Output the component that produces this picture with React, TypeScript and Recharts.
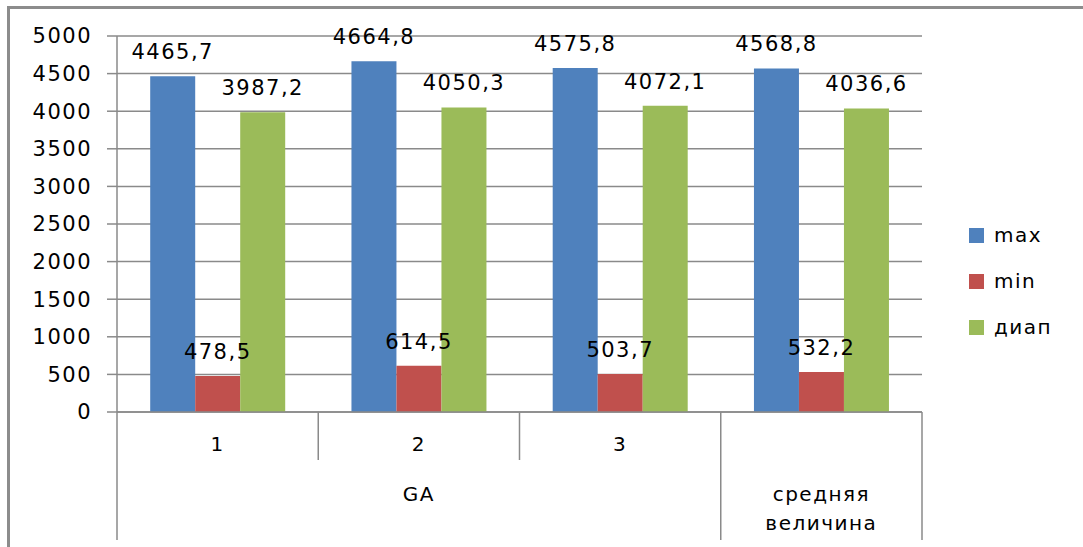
import { BarChart, Bar, XAxis, YAxis, CartesianGrid, Legend, LabelList } from 'recharts'

const categories = ['1', '2', '3', '']
const groups = ['GA', 'GA', 'GA', 'средняя величина']
const maxValues = [4465.7, 4664.8, 4575.8, 4568.8]
const minValues = [478.5, 614.5, 503.7, 532.2]
const rangeValues = [3987.2, 4050.3, 4072.1, 4036.6]
const yTicks = [0, 500, 1000, 1500, 2000, 2500, 3000, 3500, 4000, 4500, 5000]

const data = categories.map((c, i) => ({
  name: c,
  group: groups[i],
  max: maxValues[i],
  min: minValues[i],
  diap: rangeValues[i],
}))

const FONT = '"DejaVu Sans", sans-serif'
const GRID = '#8a8a8a'
const LEGEND_W = 110
const fmt = (v: any) => String(v).replace('.', ',')

function CategoryTick(props: any) {
  const { x, y, payload, index, width } = props
  const band = width / data.length
  const left = x - band / 2
  const right = x + band / 2
  const axisY = y
  const bottom = 540
  const group = groups[index]
  const lastInGroup = index === data.length - 1 || groups[index + 1] !== group
  const firstInGroup = index === 0 || groups[index - 1] !== group
  let groupLabel = null
  if (firstInGroup) {
    let n = 0
    while (index + n < groups.length && groups[index + n] === group) n++
    const cx = left + (n * band) / 2
    const words = group.split(' ')
    groupLabel = (
      <text x={cx} textAnchor="middle" fontSize={20} letterSpacing={1.5} fill="#000" fontFamily={FONT}>
        {words.map((w: string, k: number) => (
          <tspan key={k} x={cx} y={axisY + 89 + k * 29}>{w}</tspan>
        ))}
      </text>
    )
  }
  return (
    <g>
      {index === 0 && <line x1={left} x2={left} y1={axisY} y2={bottom} stroke={GRID} strokeWidth={1.5} />}
      <line x1={right} x2={right} y1={axisY} y2={lastInGroup ? bottom : axisY + 48} stroke={GRID} strokeWidth={1.5} />
      <text x={x} y={axisY + 39} textAnchor="middle" fontSize={20} letterSpacing={1.5} fill="#000" fontFamily={FONT}>
        {payload.value}
      </text>
      {groupLabel}
    </g>
  )
}

function LegendBox(props: any) {
  const { payload } = props
  return (
    <div style={{ fontFamily: FONT }}>
      {(payload || []).map((p: any, i: number) => (
        <div key={i} style={{ display: 'flex', alignItems: 'center', height: 46 }}>
          <span style={{ display: 'inline-block', width: 15, height: 15, background: p.color, marginRight: 10 }} />
          <span style={{ fontSize: 20, letterSpacing: 1.5, color: '#000' }}>{p.value}</span>
        </div>
      ))}
    </div>
  )
}

export default function App() {
  return (
    <div style={{ position: 'absolute', left: 0, top: 0, width: 1083, height: 547, overflow: 'hidden', background: '#fff' }}>
      <div style={{ position: 'absolute', left: 7, top: 6, width: 1200, height: 700, border: '3px solid #8c8c8c', boxSizing: 'border-box' }} />
      <div style={{ position: 'absolute', left: 0, top: 0 }}>
        <BarChart
          width={1083}
          height={547}
          data={data}
          margin={{ top: 36, right: 161 - LEGEND_W, bottom: 0, left: 0 }}
          barCategoryGap="16.5%"
          barGap={0}
          style={{ fontFamily: FONT }}
        >
          <CartesianGrid vertical={false} stroke={GRID} strokeWidth={1.5} />
          <XAxis
            dataKey="name"
            height={135}
            axisLine={{ stroke: GRID, strokeWidth: 1.5 }}
            tickLine={false}
            tickSize={0}
            tickMargin={0}
            interval={0}
            tick={<CategoryTick />}
          />
          <YAxis
            width={117}
            domain={[0, 5000]}
            ticks={yTicks}
            interval={0}
            axisLine={{ stroke: GRID, strokeWidth: 1.5 }}
            tickLine={{ stroke: GRID, strokeWidth: 1.5 }}
            tickSize={10}
            tickMargin={15}
            tick={{ fill: '#000', fontSize: 21, letterSpacing: 1.5 }}
          />
          <Legend
            layout="vertical"
            align="right"
            verticalAlign="top"
            content={<LegendBox />}
            wrapperStyle={{ position: 'absolute', left: 969, top: 212, width: LEGEND_W }}
          />
          <Bar dataKey="max" name="max" fill="#4F81BD" isAnimationActive={false}>
            <LabelList dataKey="max" position="top" offset={17} formatter={fmt} fill="#000" fontSize={21} letterSpacing={1.5} />
          </Bar>
          <Bar dataKey="min" name="min" fill="#C0504D" isAnimationActive={false}>
            <LabelList dataKey="min" position="top" offset={17} formatter={fmt} fill="#000" fontSize={21} letterSpacing={1.5} />
          </Bar>
          <Bar dataKey="diap" name="диап" fill="#9BBB59" isAnimationActive={false}>
            <LabelList dataKey="diap" position="top" offset={17} formatter={fmt} fill="#000" fontSize={21} letterSpacing={1.5} />
          </Bar>
        </BarChart>
      </div>
    </div>
  )
}
